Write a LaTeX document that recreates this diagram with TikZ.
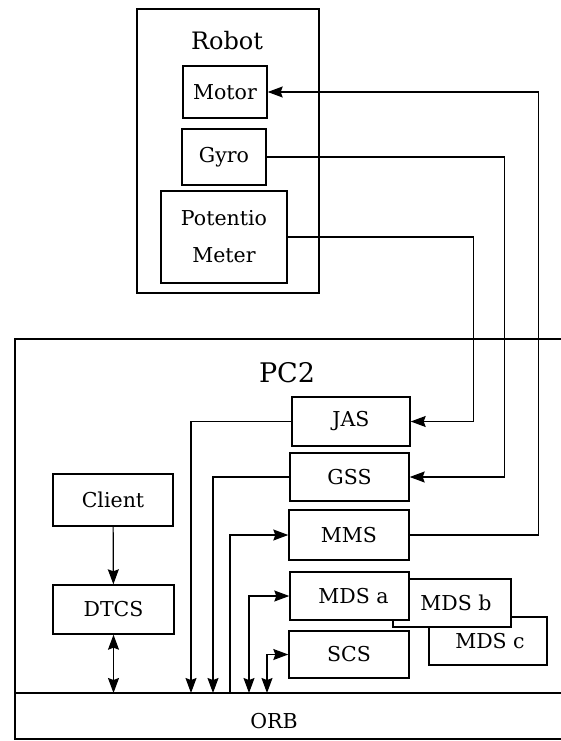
\documentclass[tikz,border=0pt]{standalone}
\usepackage{fontspec}
\setmainfont{DejaVu Serif}
\usepackage{tikz}
\usetikzlibrary{arrows.meta}

\tikzset{
    blk/.style={draw, line width=1.4pt, fill=white, inner sep=0pt, align=center,
        font=\fontsize{20.5}{26}\selectfont},
    lnk/.style={line width=1.2pt},
    ttl/.style={font=\fontsize{24}{30}\selectfont}
}

\begin{document}
\begin{tikzpicture}[x=1pt, y=-1pt, >={Stealth[length=15pt, width=11pt, inset=2pt]}]
        \useasboundingbox (0,0) rectangle (561,741);

        % robot side
        \node [draw, line width=1.4pt, minimum width=182pt, minimum height=284pt] (robot) at (228,151) {};
        \node [ttl] (robotlbl) at (227,41) {Robot};
        \node [blk, minimum width=84pt, minimum height=52pt] (motor) at (225,92) {Motor};
        \node [blk, minimum width=84pt, minimum height=56pt] (gyro) at (224,157) {Gyro};
        \node [blk, minimum width=126pt, minimum height=92pt] (pot) at (224,237) {Potentio\\[11pt]Meter};

        % PC2 frame and ORB
        \coordinate (pcTL) at (15,339);
        \coordinate (pcTR) at (561,339);
        \coordinate (orbL) at (15,693);
        \coordinate (orbR) at (561,693);
        \draw [line width=1.4pt] (pcTR) -- (pcTL) -- (15,739) -- (561,739);
        \draw [line width=1.4pt] (orbL) -- (orbR);
        \node [ttl, font=\fontsize{27}{30}\selectfont] (pclbl) at (287,373) {PC2};
        \node [blk, draw=none, fill=none] (orb) at (274,721) {ORB};

        \node [blk, minimum width=120pt, minimum height=52pt] (client) at (113,500) {Client};
        \node [blk, minimum width=121pt, minimum height=49pt] (dtcs) at (113.5,609.5) {DTCS};

        \node [blk, minimum width=118pt, minimum height=49pt] (jas) at (351,421.5) {JAS};
        \node [blk, minimum width=119pt, minimum height=48pt] (gss) at (349.5,477) {GSS};
        \node [blk, minimum width=120pt, minimum height=50pt] (mms) at (349,535) {MMS};
        \node [blk, minimum width=118pt, minimum height=48pt] (mdsc) at (488,641) {\hspace*{4pt}MDS c};
        \node [blk, minimum width=118pt, minimum height=48pt] (mdsb) at (452,603) {\hspace*{8pt}MDS b};
        \node [blk, minimum width=119pt, minimum height=48pt] (mdsa) at (349.5,596) {\hspace*{8pt}MDS a};
        \node [blk, minimum width=120pt, minimum height=47pt] (scs) at (349,654.5) {SCS};

        % ORB taps
        \coordinate (tapJ) at (191,693);
        \coordinate (tapG) at (213,693);
        \coordinate (tapM) at (230,693);
        \coordinate (tapA) at (249,693);
        \coordinate (tapS) at (267,693);

        \draw [->, lnk] (mms.east) -- ++(129,0) |- (motor.east);
        \draw [->, lnk] (gyro.east) -- ++(238,0) |- (gss.east);
        \draw [->, lnk] (pot.east) -- ++(186,0) |- (jas.east);

        \draw [->, lnk] (jas.west) -| (tapJ);
        \draw [->, lnk] (gss.west) -| (tapG);
        \draw [->, lnk] (tapM) |- (mms.west);
        \draw [<->, lnk] (tapA) |- (mdsa.west);
        \draw [<->, lnk] (tapS) |- (scs.west);

        \draw [->, lnk] (client) -- (dtcs);
        \draw [<->, lnk] (dtcs) -- (dtcs |- orbL);
    \end{tikzpicture}
\end{document}
